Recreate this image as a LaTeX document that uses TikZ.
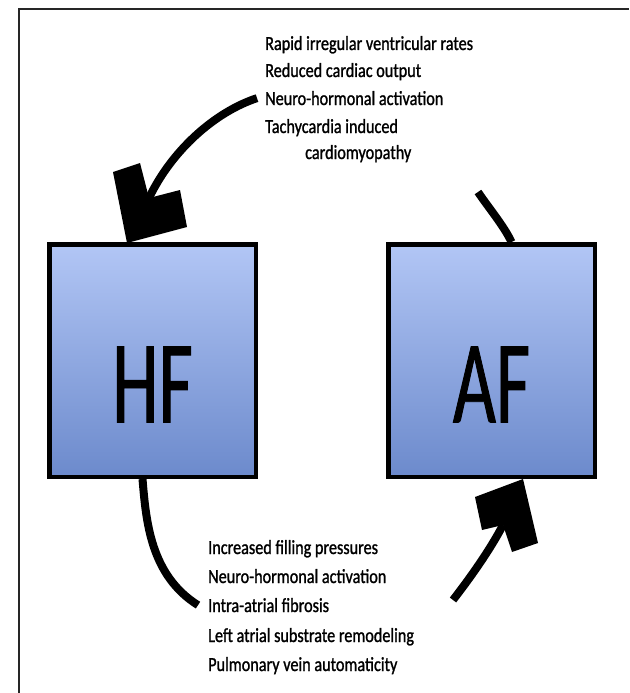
\documentclass[tikz,border=0pt]{standalone}
\usepackage{fontspec}
\setmainfont{Carlito}[FakeStretch=0.81, FakeBold=1.2]
\newfontfamily\boxfont{Carlito}[FakeStretch=0.63, FakeBold=0.7]
\usepackage{tikz}

\definecolor{boxtop}{RGB}{178,198,245}
\definecolor{boxbot}{RGB}{108,138,204}

\begin{document}
\begin{tikzpicture}
		[
			x=1pt, y=-1pt,
			box/.style = {rectangle, draw=black, line width=4.5pt, top color=boxtop, bottom color=boxbot, minimum width=206.5pt, minimum height=232.5pt, inner sep=0pt},
			boxlabel/.style = {inner sep=0pt, font=\boxfont\fontsize{118}{118}\selectfont},
			cause/.style = {anchor=base west, inner sep=0pt, font=\fontsize{20}{24}\selectfont},
			link/.style = {line width=8pt},
			head/.style = {fill=black},
		]

		\useasboundingbox (0,0) rectangle (629,693);

		% frame
		\draw[line width=2pt, black!85] (19,693) -- (19,9) -- (629,9);

		% the two boxes
		\node[box] (hf) 	at ( 152.5, 360.5 ) {};
		\node[box] (af) 	at ( 491.5, 360.5 ) {};
		\node[boxlabel] (hflabel) 	at ([yshift=-24pt]hf.center) {HF};
		\node[boxlabel] (aflabel) 	at ([yshift=-24pt]af.center) {AF};

		% causes, top
		\foreach \i/\y/\txt in {1/50/Rapid irregular ventricular rates,2/77/Reduced cardiac output,3/105/Neuro-hormonal activation,4/133/Tachycardia induced}
		\node[cause] (t\i) at (265,\y) {\txt};
		\node[cause] (t5) at (305,159) {cardiomyopathy};

		% causes, bottom
		\foreach \i/\y/\txt in {1/554/Increased filling pressures,2/583/Neuro-hormonal activation,3/612/Intra-atrial fibrosis,4/642/Left atrial substrate remodeling,5/671/Pulmonary vein automaticity}
		\node[cause] (b\i) at (208,\y) {\txt};

		% AF -> HF
		\coordinate (afout) at (478,192);
		\coordinate (hfin) at (149,198);
		\draw[link] (afout) .. controls (488,207) and (504,226) .. ([xshift=20pt]af.north);
		\draw[link] ([xshift=-8pt]t3.west) .. controls (215,112) and (172,150) .. (hfin);
		\fill[head] (127,243) -- (113,172) -- (140,163) -- (hfin) -- (180,190) -- (187,227) -- cycle;

		% HF -> AF
		\coordinate (afstart) at (453,600);
		\coordinate (afin) at (503,525);
		\draw[link] ([xshift=-10pt]hf.south) .. controls (146,520) and (150,575) .. ([xshift=-10pt]b3.west);
		\draw[link] (afstart) .. controls (470,578) and (490,550) .. (afin);
		\fill[head] (523,479) -- (475,497) -- (482,530) -- (afin) -- (512,552) -- (538,543) -- cycle;

		\end{tikzpicture}
\end{document}
